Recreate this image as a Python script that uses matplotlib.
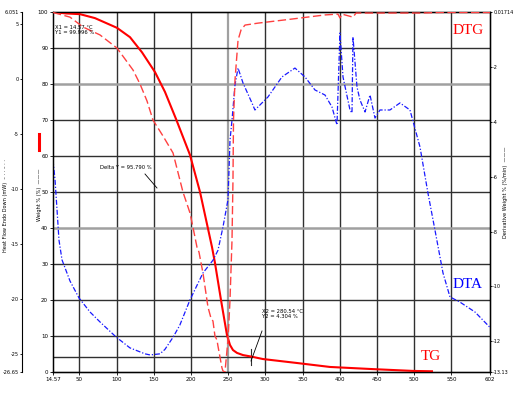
import matplotlib
matplotlib.use("Agg")
import matplotlib.pyplot as plt

W, H = 513, 403

# ---------------- data ----------------
tg_temp = [14.57, 32.0, 50.9, 71.0, 100.6, 118.1, 134.2, 151.7, 165.1, 179.9, 189.3,
           198.7, 212.2, 228.3, 232.3, 240.4, 248.4, 252.5, 256.5, 261.9, 270.0,
           280.54, 296.8, 342.5, 386.9, 444.7, 498.5, 524.0]
tg_weight = [100.0, 99.6, 99.4, 98.3, 95.6, 93.0, 88.8, 83.3, 77.8, 70.3, 65.3, 60.3,
             50.0, 34.7, 30.3, 20.0, 10.3, 7.5, 6.1, 5.3, 4.7, 4.304, 3.6, 2.5, 1.4,
             0.8, 0.3, 0.2]

dtg_temp = [14.57, 37.4, 54.9, 77.7, 100.6, 122.1, 131.5, 140.9, 149.0, 162.4, 175.9,
            189.3, 198.7, 202.7, 208.1, 210.8, 216.2, 222.9, 226.9, 229.6, 232.3, 235.0,
            236.3, 239.0, 241.7, 243.0, 245.7, 249.8, 252.5, 255.2, 256.5, 257.2, 259.2,
            263.3, 267.3, 272.7, 290.0, 335.8, 380.2, 397.6, 400.3, 403.0, 417.8, 422.0,
            508.0, 534.7, 602.0]
dtg_value = [0.0, -0.17, -0.53, -0.82, -1.30, -2.10, -2.61, -3.23, -3.93, -4.51, -5.13,
             -6.56, -7.32, -7.84, -8.57, -8.75, -9.52, -10.76, -11.16, -11.27, -11.82,
             -11.96, -12.18, -12.58, -12.98, -13.09, -13.13, -11.96, -10.50, -8.31, -6.12,
             -3.93, -2.47, -1.01, -0.64, -0.46, -0.39, -0.24, -0.09, -0.06, -0.20, -0.06,
             -0.17, -0.02, -0.02, 0.0, 0.0]

dta_temp = [14.57, 17.3, 20.0, 22.6, 26.7, 37.4, 49.5, 64.3, 77.7, 99.2, 118.0, 138.2,
            145.0, 158.4, 165.0, 175.9, 185.0, 198.7, 216.2, 229.6, 236.3, 243.0, 249.8,
            252.5, 255.2, 259.2, 263.3, 270.0, 282.0, 286.0, 303.5, 322.3, 339.8, 353.3,
            366.7, 380.2, 389.6, 396.3, 400.3, 404.4, 413.8, 416.5, 417.8, 423.2, 427.2,
            434.0, 440.7, 447.4, 454.1, 467.5, 481.0, 494.4, 507.9, 518.6, 528.0, 538.8,
            548.2, 561.6, 581.8, 602.0]
dta_value = [-7.39, -9.2, -11.93, -14.66, -16.47, -18.38, -19.92, -21.2, -22.1, -23.46,
             -24.46, -25.0, -25.1, -25.0, -24.6, -23.5, -22.4, -20.1, -17.65, -16.5,
             -15.6, -13.5, -11.0, -5.6, -3.76, -0.58, 0.96, -0.40, -2.21, -2.85, -1.67,
             0.15, 0.96, 0.15, -1.03, -1.49, -2.58, -4.21, 4.14, 0.15, -2.85, -3.12, 3.78,
             -0.76, -1.94, -3.03, -1.49, -3.58, -2.85, -2.85, -2.21, -2.85, -6.21, -10.4,
             -13.75, -17.65, -19.83, -20.3, -21.2, -22.6]

x_ticks = [14.57, 50, 100, 150, 200, 250, 300, 350, 400, 450, 500, 550, 602]
x_tick_labels = ["14.57", "50", "100", "150", "200", "250", "300", "350", "400",
                 "450", "500", "550", "602"]
w_ticks = [0, 10, 20, 30, 40, 50, 60, 70, 80, 90, 100]
hf_ticks = [-26.65, -25, -20, -15, -10, -5, 0, 5, 6.051]
hf_tick_labels = ["-26.65", "-25", "-20", "-15", "-10", "-5", "0", "5", "6.051"]
dw_ticks = [-13.13, -12, -10, -8, -6, -4, -2, 0.01714]
dw_tick_labels = ["-13.13", "-12", "-10", "-8", "-6", "-4", "-2", "0.01714"]

# ---------------- figure ----------------
fig = plt.figure(figsize=(W / 100, H / 100), dpi=100)
L, R, T, B = 53, 490, 12, 372
ax = fig.add_axes([L / W, 1 - B / H, (R - L) / W, (B - T) / H])
ax.set_xlim(14.57, 602)
ax.set_ylim(0, 100)

fs = 4.0
dark = "#303030"
light = "#a0a0a0"
vgrid = {50: dark, 100: dark, 150: dark, 200: dark, 250: light, 300: dark, 350: dark,
         400: dark, 450: dark, 500: dark, 550: dark}
for xv, c in vgrid.items():
    ax.axvline(xv, color=c, lw=1.6 if c == light else 1.0, zorder=0)
for yv in w_ticks[1:-1]:
    c = light if yv in (40, 80) else dark
    ax.axhline(yv, color=c, lw=1.8 if c == light else 1.0, zorder=0)

ax.set_xticks(x_ticks)
ax.set_xticklabels(x_tick_labels, fontsize=fs)
ax.set_yticks(w_ticks)
ax.set_yticklabels([str(v) for v in w_ticks], fontsize=fs)
ax.tick_params(length=2, width=0.6, pad=1.5)
for s in ax.spines.values():
    s.set_linewidth(1.0)

# crosshair at X2/Y2
ax.plot([14.57, 280.54], [4.304, 4.304], color=dark, lw=1.0, zorder=1)
ax.plot([280.54, 280.54], [2.0, 6.5], color=dark, lw=0.8, zorder=1)

ax.plot(tg_temp, tg_weight, color="#ff0000", lw=1.5, zorder=5)

# heat flow (far left)
ax2 = ax.twinx()
ax2.spines["left"].set_position(("outward", 22))
ax2.spines["left"].set_visible(True)
ax2.yaxis.set_label_position("left")
ax2.yaxis.set_ticks_position("left")
ax2.set_ylim(-26.65, 6.051)
ax2.set_yticks(hf_ticks)
ax2.set_yticklabels(hf_tick_labels, fontsize=3.6)
ax2.tick_params(length=1.8, width=0.6, pad=1.0)
ax2.plot(dta_temp, dta_value, color="#1a1aff", lw=0.9, dashes=(4, 1.5, 1, 1.5), zorder=4)

# derivative weight (right)
ax3 = ax.twinx()
ax3.set_ylim(-13.13, 0.01714)
ax3.set_yticks(dw_ticks)
ax3.set_yticklabels(dw_tick_labels, fontsize=3.5)
ax3.tick_params(length=1.5, width=0.6, pad=0.8)
ax3.plot(dtg_temp, dtg_value, color="#ff4040", lw=1.0, dashes=(6, 2.5), zorder=4)

# axis labels
fig.text(6 / W, 1 - 205 / H, "Heat Flow Endo Down (mW)  – · · – · ·", rotation=90,
         fontsize=3.6, ha="center", va="center")
fig.text(39 / W, 1 - 195 / H, "Weight % (%)  ———", rotation=90,
         fontsize=3.6, ha="center", va="center")
fig.add_artist(plt.Line2D([39 / W, 39 / W], [1 - 150 / H, 1 - 134 / H],
                          color="#ff0000", lw=2.2))
fig.text(506 / W, 1 - 192 / H, "Derivative Weight % (%/min)  ———", rotation=90,
         fontsize=3.6, ha="center", va="center")

# annotations
fig.text(55 / W, 1 - 25 / H, "X1 = 14.57 °C\nY1 = 99.996 %", fontsize=3.8, va="top",
         linespacing=1.1)
fig.text(100 / W, 1 - 168 / H, "Delta Y = 95.790 %", fontsize=3.8, va="center")
fig.add_artist(plt.Line2D([145 / W, 157 / W], [1 - 174 / H, 1 - 188 / H],
                          color="black", lw=0.6))
fig.text(262 / W, 1 - 314 / H, "X2 = 280.54 °C\nY2 = 4.304 %", fontsize=3.8,
         va="center", linespacing=1.1)
fig.add_artist(plt.Line2D([262 / W, 251 / W], [1 - 331 / H, 1 - 361 / H],
                          color="black", lw=0.6))

# big labels
fig.text(468 / W, 1 - 30 / H, "DTG", color="#ff0000", fontsize=11,
         family="Liberation Serif", ha="center", va="center")
fig.text(468 / W, 1 - 284 / H, "DTA", color="#0000ff", fontsize=11,
         family="Liberation Serif", ha="center", va="center")
fig.text(431 / W, 1 - 356 / H, "TG", color="#ff0000", fontsize=11,
         family="Liberation Serif", ha="center", va="center")

fig.savefig("out.png", dpi=100)
